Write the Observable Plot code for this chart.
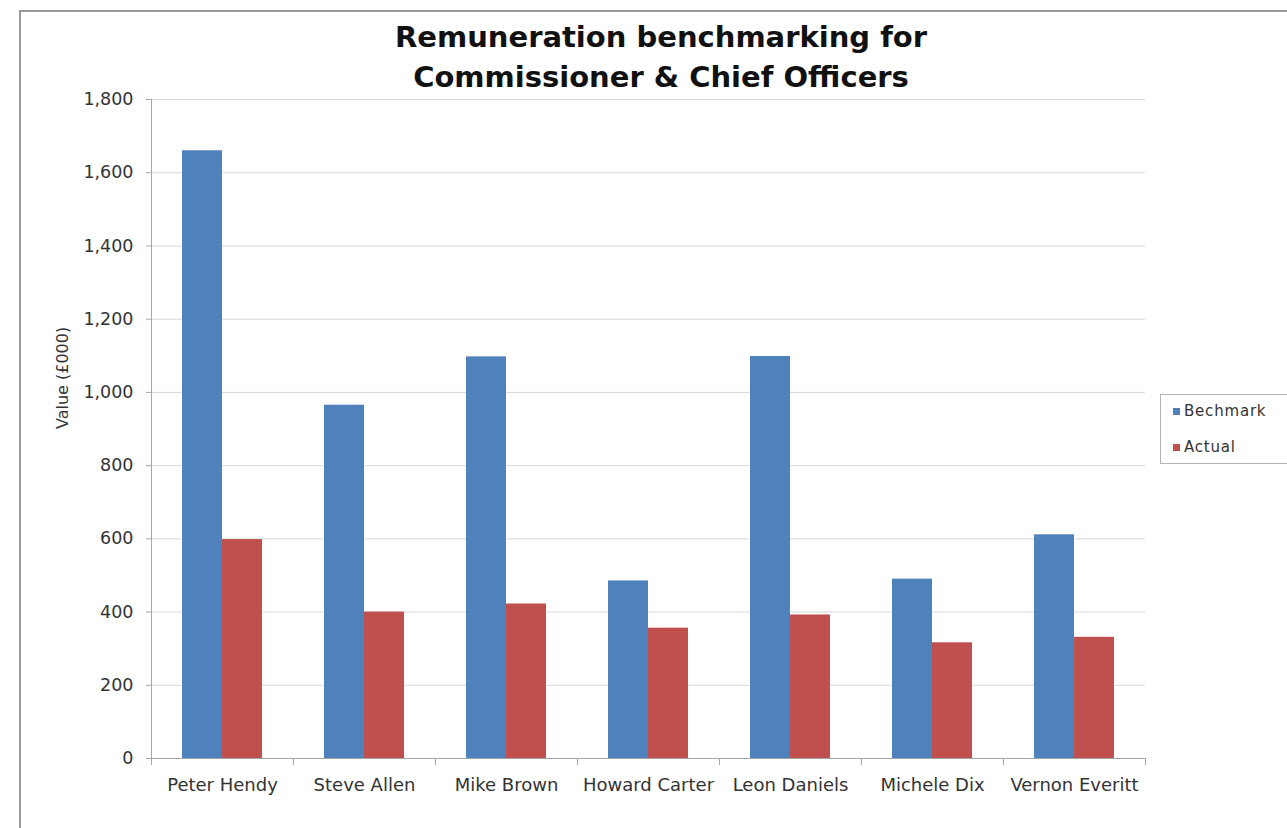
<!DOCTYPE html>
<html>
<head>
<meta charset="utf-8">
<script src="https://cdn.jsdelivr.net/npm/d3@7"></script>
<script src="https://cdn.jsdelivr.net/npm/@observablehq/plot@0.6"></script>
<style>
  html, body { margin: 0; padding: 0; background: #fff; overflow: hidden; }
  #wrap { position: relative; width: 1287px; height: 828px; font-family: "DejaVu Sans", sans-serif; }
  #border { position: absolute; left: 19px; top: 10px; width: 1320px; height: 860px; border: 2px solid #9a9a9a; box-sizing: border-box; }
  #chart { position: absolute; left: 0; top: 0; }
  #title { position: absolute; left: 361px; width: 600px; top: 17px; text-align: center;
           font: bold 29px/40px "DejaVu Sans", sans-serif; color: #111; }
  #legend { position: absolute; left: 1160px; top: 394px; width: 160px; height: 70px;
            border: 1px solid #b4b4b4; box-sizing: border-box; background: #fff; }
  .item { position: absolute; left: 12px; height: 20px; line-height: 20px; font-size: 15px;
          letter-spacing: 0.8px; color: #333; white-space: nowrap; }
  .sw { display: inline-block; width: 7px; height: 7px; margin-right: 4px; vertical-align: 1px; }
</style>
</head>
<body>
<div id="wrap">
  <div id="border"></div>
  <div id="chart"></div>
  <div id="title">Remuneration benchmarking for<br>Commissioner &amp; Chief Officers</div>
  <div id="legend"></div>
</div>
<script>
// ---- data ----
const names = ["Peter Hendy", "Steve Allen", "Mike Brown", "Howard Carter", "Leon Daniels", "Michele Dix", "Vernon Everitt"];
const benchmark = [1660, 965, 1097, 485, 1098, 490, 611];
const actual = [598, 400, 422, 356, 392, 316, 331];
const series = ["Bechmark", "Actual"];
const colors = ["#4F81BD", "#C0504D"];
const yTicks = [0, 200, 400, 600, 800, 1000, 1200, 1400, 1600, 1800];
const yLabel = "Value (£000)";

const data = names.flatMap((n, i) => [
  {name: n, series: series[0], value: benchmark[i]},
  {name: n, series: series[1], value: actual[i]}
]);

// ---- layout ----
const W = 1287, H = 828;
const mL = 149, mR = 141, mT = 99, mB = 70;
const innerH = H - mT - mB;
const axisColor = "#a6a6a6";
const fmt = d3.format(",");

const chart = Plot.plot({
  width: W,
  height: H,
  marginLeft: mL,
  marginRight: mR,
  marginTop: mT,
  marginBottom: mB,
  style: {fontFamily: "DejaVu Sans, sans-serif", fontSize: "18px", color: "#333", background: "transparent", overflow: "visible"},
  fx: {domain: names, padding: 0, label: null},
  x: {domain: series, paddingInner: 0, paddingOuter: 0.757, axis: null},
  y: {domain: [0, 1800]},
  color: {domain: series, range: colors},
  marks: [
    Plot.gridY(yTicks, {stroke: "#d9d9d9", strokeOpacity: 1}),
    Plot.barY(data, {fx: "name", x: "series", y: "value", fill: "series"}),
    Plot.ruleY([0], {stroke: axisColor}),
    Plot.frame({anchor: "left", facetAnchor: "left", stroke: axisColor}),
    Plot.frame({anchor: "left", stroke: axisColor, insetTop: innerH, insetBottom: -6}),
    Plot.frame({anchor: "right", facetAnchor: "right", stroke: axisColor, insetTop: innerH, insetBottom: -6}),
    Plot.axisY(yTicks, {tickFormat: fmt, tickSize: 5, tickPadding: 13, stroke: axisColor, fill: "#333", fontSize: 17.5, label: null}),
    Plot.text([yLabel], {frameAnchor: "left", facetAnchor: "left", rotate: -90, dx: -89, fontSize: 16, fill: "#333"}),
    Plot.axisFx({anchor: "bottom", tickSize: 0, tickPadding: 20, label: null, fill: "#333", fontSize: 18})
  ]
});
document.getElementById("chart").appendChild(chart);

// ---- legend ----
const legend = document.getElementById("legend");
series.forEach((s, i) => {
  const item = document.createElement("div");
  item.className = "item";
  item.style.top = (6 + i * 36) + "px";
  const sw = document.createElement("span");
  sw.className = "sw";
  sw.style.background = colors[i];
  item.appendChild(sw);
  item.appendChild(document.createTextNode(s));
  legend.appendChild(item);
});
</script>
</body>
</html>
